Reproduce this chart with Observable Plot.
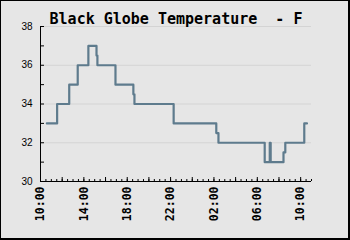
<!DOCTYPE html>
<html>
<head>
<meta charset="utf-8">
<script src="https://cdn.jsdelivr.net/npm/d3@7"></script>
<script src="https://cdn.jsdelivr.net/npm/@observablehq/plot@0.6"></script>
<style>
  html, body { margin: 0; padding: 0; background: #e6e6e6; }
  #chart svg { display: block; background: #e6e6e6;
    box-shadow: inset 1px 1px 0 #000, inset -2px -2px 0 #000; }
  #chart svg text { white-space: pre; }
</style>
</head>
<body>
<div id="chart"></div>
<script>
const title = "Black Globe Temperature  - F";
const times = ["2024-01-01 10:35","2024-01-01 11:32","2024-01-01 12:39","2024-01-01 13:26","2024-01-01 14:25","2024-01-01 15:10","2024-01-01 15:15","2024-01-01 16:55","2024-01-01 18:34","2024-01-01 18:40","2024-01-01 22:17","2024-01-02 02:13","2024-01-02 02:25","2024-01-02 06:41","2024-01-02 07:09","2024-01-02 07:14","2024-01-02 08:25","2024-01-02 08:35","2024-01-02 10:20","2024-01-02 10:35"];
const temps = [33,34,35,36,37,36.5,36,35,34.5,34,33,32.5,32,31,32,31,31.5,32,33,33];
const xDomain = ["2024-01-01 10:00", "2024-01-02 11:00"];
const yDomain = [30, 38];
const yLabelTicks = [30, 32, 34, 36, 38];
const yMinorTicks = [31, 33, 35, 37];

const W = 350, H = 240, ML = 40, MR = 39, MT = 26, MB = 59;
const frameW = W - ML - MR, frameH = H - MT - MB;

const parse = d3.utcParse("%Y-%m-%d %H:%M");
const data = times.map((t, i) => ({time: parse(t), temp: temps[i]}));
const [x0, x1] = xDomain.map(parse);
const xEnd = d3.utcMinute.offset(x1, 1);
const labelTicks = d3.utcHour.range(x0, xEnd, 4);
const majorTicks = d3.utcHour.range(x0, xEnd, 2);
const minorTicks = d3.utcMinute.range(x0, xEnd, 30);

const chart = Plot.plot({
  width: W,
  height: H,
  marginLeft: ML,
  marginRight: MR,
  marginTop: MT,
  marginBottom: MB,
  style: {background: "#e6e6e6", color: "#000"},
  x: {type: "utc", domain: [x0, x1]},
  y: {domain: yDomain},
  marks: [
    Plot.gridY(yLabelTicks, {stroke: "#d4d4d4", strokeOpacity: 1}),
    Plot.line(data, {x: "time", y: "temp", curve: "step-after", stroke: "#5e7b8d", strokeWidth: 2.2}),
    Plot.ruleX([x0], {stroke: "#000"}),
    Plot.ruleY([yDomain[0]], {stroke: "#000"}),
    // inward ticks
    Plot.tickY(yLabelTicks.concat(yMinorTicks), {y: d => d, insetRight: frameW - 4, stroke: "#000"}),
    Plot.tickX(majorTicks, {x: d => d, insetTop: frameH - 4, stroke: "#000"}),
    Plot.tickX(minorTicks, {x: d => d, insetTop: frameH - 2, stroke: "#000"}),
    Plot.axisY(yLabelTicks, {tickSize: 0, tickPadding: 8, label: null, fontSize: 10,
      fontFamily: "Liberation Sans, Arial, sans-serif", fill: "#000"}),
    Plot.axisX(labelTicks, {tickSize: 0, tickPadding: 5, tickRotate: -90, label: null,
      tickFormat: d3.utcFormat("%H:%M"),
      fontSize: 11.5, fontWeight: "bold", fontFamily: "DejaVu Sans Mono, monospace", fill: "#000"}),
    Plot.text([title], {frameAnchor: "top", dy: -13, fontSize: 15, fontWeight: "bold",
      fontFamily: "DejaVu Sans Mono, monospace", fill: "#000"})
  ]
});
document.getElementById("chart").appendChild(chart);
</script>
</body>
</html>
